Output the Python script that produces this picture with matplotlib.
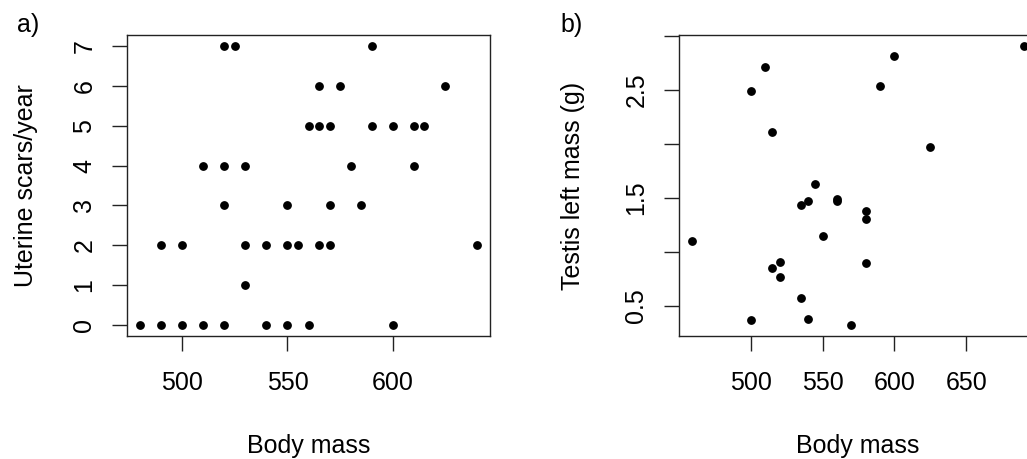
import matplotlib
matplotlib.use('Agg')
import matplotlib.pyplot as plt

plt.rcParams['font.family'] = ['Liberation Sans', 'DejaVu Sans']

# a) uterine scars per year vs body mass
mass_a = [520, 525, 590,
          565, 575, 625,
          560, 565, 570, 590, 600, 610, 615,
          510, 520, 530, 580, 610,
          520, 550, 570, 585,
          490, 500, 530, 540, 550, 555, 565, 570, 640,
          530,
          480, 490, 500, 510, 520, 540, 550, 560, 600]
scars = [7, 7, 7,
         6, 6, 6,
         5, 5, 5, 5, 5, 5, 5,
         4, 4, 4, 4, 4,
         3, 3, 3, 3,
         2, 2, 2, 2, 2, 2, 2, 2, 2,
         1,
         0, 0, 0, 0, 0, 0, 0, 0, 0]

# b) left testis mass vs body mass
mass_b = [690, 600, 510, 590, 500, 515, 625, 545, 540, 535, 560, 560,
          580, 580, 550, 459, 520, 515, 520, 580, 535, 500, 540, 570]
testis = [2.90, 2.81, 2.71, 2.53, 2.49, 2.11, 1.97, 1.63, 1.47, 1.43, 1.49, 1.47,
          1.38, 1.30, 1.15, 1.10, 0.91, 0.85, 0.77, 0.90, 0.57, 0.37, 0.38, 0.32]

W, H = 1027, 459
fig = plt.figure(figsize=(W / 100, H / 100), dpi=100)


def px_axes(left, top, right, bottom):
    return fig.add_axes([left / W, 1 - bottom / H, (right - left) / W, (bottom - top) / H])


def style(ax, width_px):
    for s in ax.spines.values():
        s.set_linewidth(1.0)
        s.set_color('#222222')
    ax.tick_params(axis='both', length=11, width=1.0, color='#222222', labelsize=18)
    ax.tick_params(axis='x', pad=14)
    ax.tick_params(axis='y', pad=11, labelrotation=90)
    for lab in ax.get_yticklabels():
        lab.set_va('center')


ax1 = px_axes(127, 35, 490, 336)
ax1.plot(mass_a, scars, 'o', color='black', ms=5.3, mec='black')
ax1.set_xlim(473.6, 646.4)
ax1.set_ylim(-0.28, 7.28)
ax1.set_xticks([500, 550, 600])
ax1.set_yticks(range(0, 8))
style(ax1, 363)
ax1.set_xlabel('Body mass', fontsize=18)
ax1.xaxis.set_label_coords(0.5, -117 / 301)
ax1.xaxis.label.set_va('baseline')
ax1.set_ylabel('Uterine scars/year', fontsize=18)
ax1.yaxis.set_label_coords((33 - 127) / 363, 0.5)
ax1.yaxis.label.set_va('baseline')

ax2 = px_axes(679, 35, 1036.6, 336)
ax2.plot(mass_b, testis, 'o', color='black', ms=5.3, mec='black')
ax2.set_xlim(450, 699)
ax2.set_ylim(0.221, 3.006)
ax2.set_xticks([500, 550, 600, 650])
ax2.set_yticks([0.5, 1.0, 1.5, 2.0, 2.5, 3.0])
ax2.set_yticklabels(['0.5', '', '1.5', '', '2.5', ''])
style(ax2, 357.6)
ax2.set_xlabel('Body mass', fontsize=18)
ax2.xaxis.set_label_coords(0.5, -117 / 301)
ax2.xaxis.label.set_va('baseline')
ax2.set_ylabel('Testis left mass (g)', fontsize=18)
ax2.yaxis.set_label_coords((580 - 679) / 357.6, 0.5)
ax2.yaxis.label.set_va('baseline')

fig.text(17 / W, 1 - 32 / H, 'a)', fontsize=18, va='baseline', ha='left')
fig.text(560 / W, 1 - 32 / H, 'b)', fontsize=18, va='baseline', ha='left')

fig.savefig('out.png', dpi=100)
